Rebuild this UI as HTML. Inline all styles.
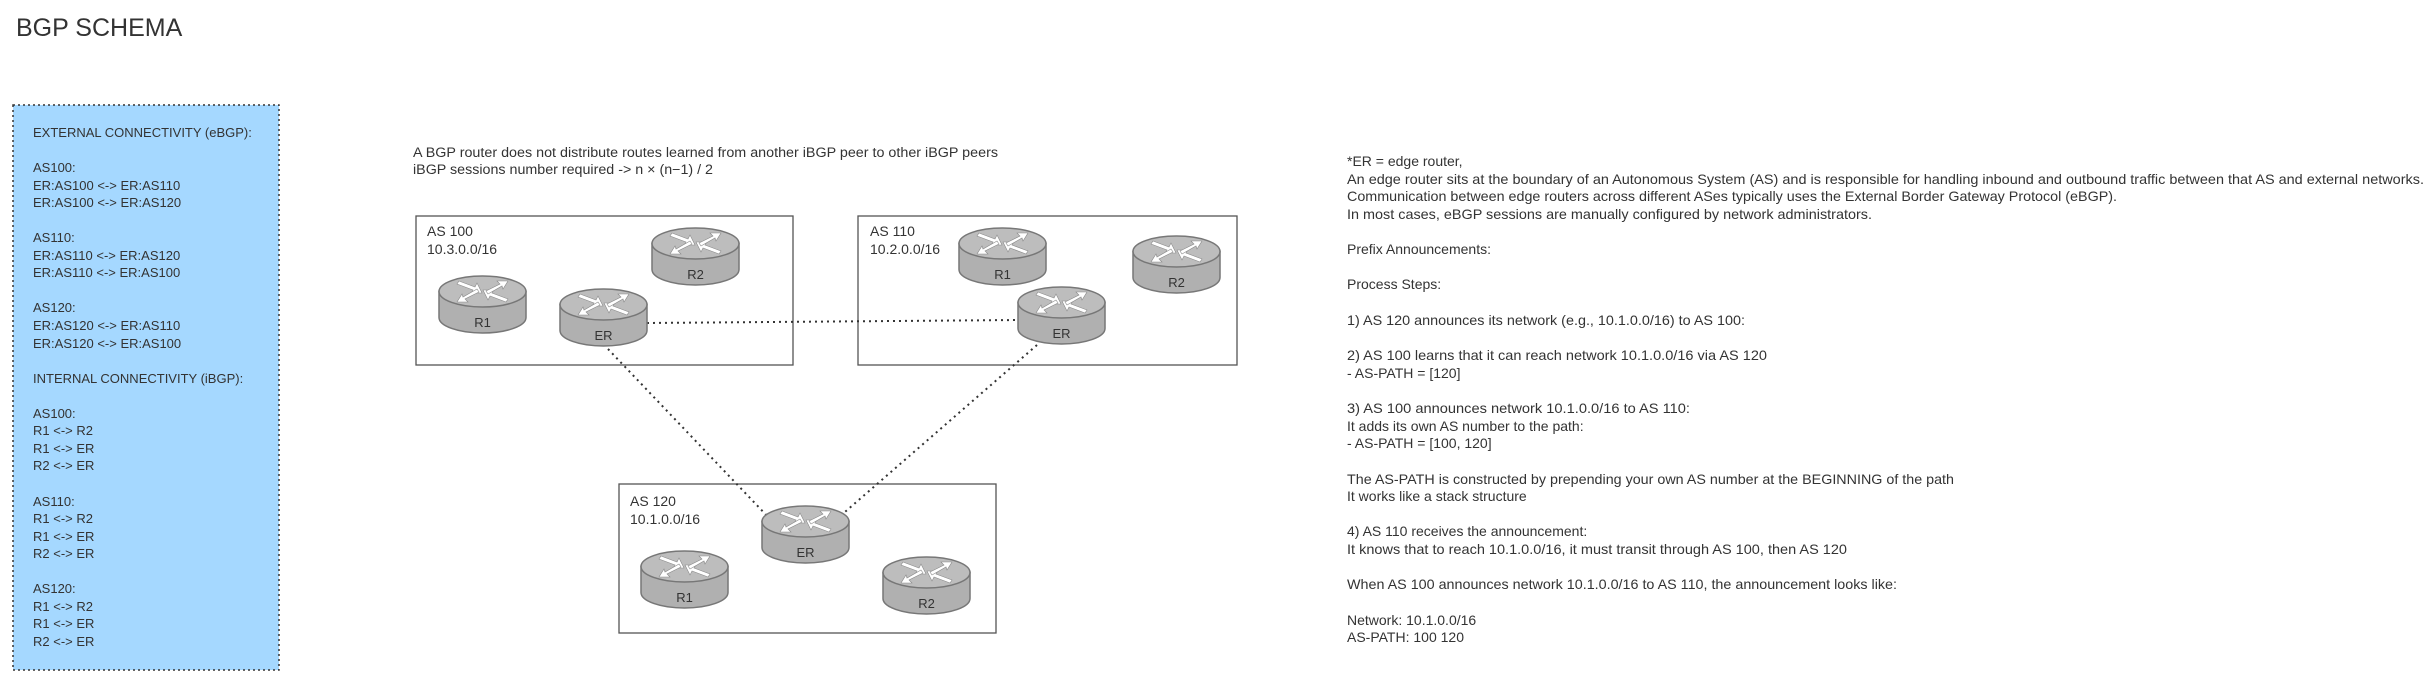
<!DOCTYPE html>
<html><head><meta charset="utf-8"><style>
html,body{margin:0;padding:0;background:#fff;}
svg{display:block;}
text{font-family:"Liberation Sans",sans-serif;fill:#333;}
</style></head><body>
<svg width="2434" height="683" viewBox="0 0 2434 683" xmlns="http://www.w3.org/2000/svg">
<defs>
<g id="rt">
  <path d="M0,15.5 L0,41.5 A43.5,15.5 0 0 0 87,41.5 L87,15.5 Z" fill="#b0b0b0" stroke="#777" stroke-width="1.5"/>
  <ellipse cx="43.5" cy="15.5" rx="43.5" ry="15.5" fill="#bdbdbd" stroke="#777" stroke-width="1.5"/>
  <g fill="#fff" stroke="#8a8a8a" stroke-width="0.6">
    <polygon points="20,5 36,11 38,7 43,17 32,17 34,14 18,8"/>
    <polygon points="67,26 51,20 49,24 44,14 55,14 53,17 69,23"/>
    <polygon points="47,15 61,8 58,5 69,5 64,13 63,10 49,18"/>
    <polygon points="40,16 26,23 29,26 18,26 23,18 24,21 38,13"/>
  </g>
</g>
</defs>

<text x="16" y="36" font-size="25" fill="#222">BGP SCHEMA</text>

<rect x="13" y="105" width="266" height="565" fill="#a5d8ff" stroke="#333" stroke-width="1.5" stroke-dasharray="2,3"/>
<g font-size="13">
<text x="33" y="137">EXTERNAL CONNECTIVITY (eBGP):</text>
<text x="33" y="172">AS100:</text>
<text x="33" y="190">ER:AS100 &lt;-&gt; ER:AS110</text>
<text x="33" y="207">ER:AS100 &lt;-&gt; ER:AS120</text>
<text x="33" y="242">AS110:</text>
<text x="33" y="260">ER:AS110 &lt;-&gt; ER:AS120</text>
<text x="33" y="277">ER:AS110 &lt;-&gt; ER:AS100</text>
<text x="33" y="312">AS120:</text>
<text x="33" y="330">ER:AS120 &lt;-&gt; ER:AS110</text>
<text x="33" y="348">ER:AS120 &lt;-&gt; ER:AS100</text>
<text x="33" y="383">INTERNAL CONNECTIVITY (iBGP):</text>
<text x="33" y="418">AS100:</text>
<text x="33" y="435">R1 &lt;-&gt; R2</text>
<text x="33" y="453">R1 &lt;-&gt; ER</text>
<text x="33" y="470">R2 &lt;-&gt; ER</text>
<text x="33" y="506">AS110:</text>
<text x="33" y="523">R1 &lt;-&gt; R2</text>
<text x="33" y="541">R1 &lt;-&gt; ER</text>
<text x="33" y="558">R2 &lt;-&gt; ER</text>
<text x="33" y="593">AS120:</text>
<text x="33" y="611">R1 &lt;-&gt; R2</text>
<text x="33" y="628">R1 &lt;-&gt; ER</text>
<text x="33" y="646">R2 &lt;-&gt; ER</text>
</g>

<g font-size="13.5">
<text x="413" y="157" textLength="585" lengthAdjust="spacingAndGlyphs">A BGP router does not distribute routes learned from another iBGP peer to other iBGP peers</text>
<text x="413" y="174" textLength="300" lengthAdjust="spacingAndGlyphs">iBGP sessions number required -&gt; n × (n−1) / 2</text>
</g>

<rect x="416" y="216" width="377" height="149" fill="none" stroke="#555" stroke-width="1.3"/>
<rect x="858" y="216" width="379" height="149" fill="none" stroke="#555" stroke-width="1.3"/>
<rect x="619" y="484" width="377" height="149" fill="none" stroke="#555" stroke-width="1.3"/>

<g font-size="14">
<text x="427" y="236">AS 100</text><text x="427" y="254">10.3.0.0/16</text>
<text x="870" y="236">AS 110</text><text x="870" y="254">10.2.0.0/16</text>
<text x="630" y="506">AS 120</text><text x="630" y="524">10.1.0.0/16</text>
</g>

<g stroke="#333" stroke-width="2" stroke-dasharray="2,4" fill="none">
<line x1="647" y1="323" x2="1018" y2="320"/>
<line x1="608" y1="349" x2="771" y2="520"/>
<line x1="1037" y1="345" x2="838" y2="518"/>
</g>

<g font-size="13" text-anchor="middle">
<use href="#rt" x="652" y="228"/><text x="695.5" y="279">R2</text>
<use href="#rt" x="439" y="276"/><text x="482.5" y="327">R1</text>
<use href="#rt" x="560" y="289"/><text x="603.5" y="340">ER</text>
<use href="#rt" x="959" y="228"/><text x="1002.5" y="279">R1</text>
<use href="#rt" x="1133" y="236"/><text x="1176.5" y="287">R2</text>
<use href="#rt" x="1018" y="287"/><text x="1061.5" y="338">ER</text>
<use href="#rt" x="762" y="506"/><text x="805.5" y="557">ER</text>
<use href="#rt" x="641" y="551"/><text x="684.5" y="602">R1</text>
<use href="#rt" x="883" y="557"/><text x="926.5" y="608">R2</text>
</g>

<g font-size="14">
<text x="1347" y="166">*ER = edge router,</text>
<text x="1347" y="184" textLength="1077" lengthAdjust="spacingAndGlyphs">An edge router sits at the boundary of an Autonomous System (AS) and is responsible for handling inbound and outbound traffic between that AS and external networks.</text>
<text x="1347" y="201" textLength="770" lengthAdjust="spacingAndGlyphs">Communication between edge routers across different ASes typically uses the External Border Gateway Protocol (eBGP).</text>
<text x="1347" y="219" textLength="525" lengthAdjust="spacingAndGlyphs">In most cases, eBGP sessions are manually configured by network administrators.</text>
<text x="1347" y="254">Prefix Announcements:</text>
<text x="1347" y="289">Process Steps:</text>
<text x="1347" y="325" textLength="398" lengthAdjust="spacingAndGlyphs">1) AS 120 announces its network (e.g., 10.1.0.0/16) to AS 100:</text>
<text x="1347" y="360" textLength="420" lengthAdjust="spacingAndGlyphs">2) AS 100 learns that it can reach network 10.1.0.0/16 via AS 120</text>
<text x="1347" y="378">- AS-PATH = [120]</text>
<text x="1347" y="413" textLength="343" lengthAdjust="spacingAndGlyphs">3) AS 100 announces network 10.1.0.0/16 to AS 110:</text>
<text x="1347" y="431">It adds its own AS number to the path:</text>
<text x="1347" y="448">- AS-PATH = [100, 120]</text>
<text x="1347" y="484" textLength="607" lengthAdjust="spacingAndGlyphs">The AS-PATH is constructed by prepending your own AS number at the BEGINNING of the path</text>
<text x="1347" y="501">It works like a stack structure</text>
<text x="1347" y="536">4) AS 110 receives the announcement:</text>
<text x="1347" y="554" textLength="500" lengthAdjust="spacingAndGlyphs">It knows that to reach 10.1.0.0/16, it must transit through AS 100, then AS 120</text>
<text x="1347" y="589" textLength="550" lengthAdjust="spacingAndGlyphs">When AS 100 announces network 10.1.0.0/16 to AS 110, the announcement looks like:</text>
<text x="1347" y="625">Network: 10.1.0.0/16</text>
<text x="1347" y="642">AS-PATH: 100 120</text>
</g>
</svg>
</body></html>
